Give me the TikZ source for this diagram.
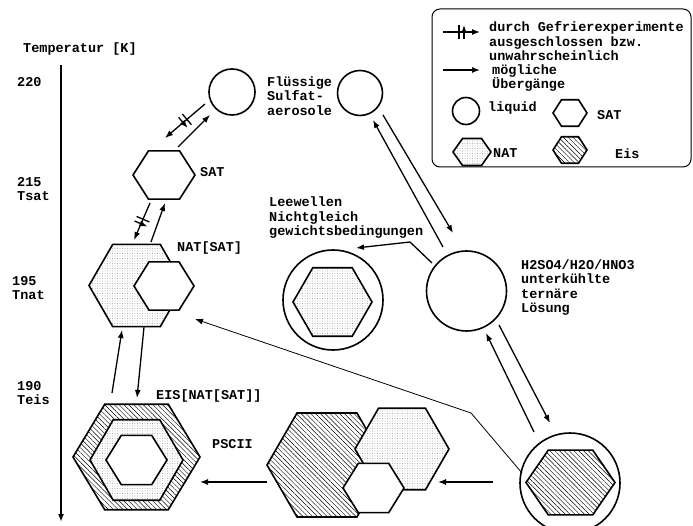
\documentclass[tikz,border=0pt]{standalone}
\usepackage{fontspec}
\setmainfont{Liberation Mono}
\usetikzlibrary{shapes.geometric, arrows.meta, patterns.meta, decorations.markings, positioning}

\tikzset{
  hex/.style={regular polygon, regular polygon sides=6, draw, line width=1.6pt, inner sep=0pt},
  drop/.style={circle, draw, line width=1.6pt, inner sep=0pt},
  natfill/.style={preaction={fill=white}, pattern={Dots[distance=2.5pt, radius=0.35pt]}, pattern color=black!50},
  eisfill/.style={preaction={fill=white}, pattern={Lines[angle=-45, distance=3.4pt, line width=0.45pt]}},
  lbl/.style={inner sep=0pt, anchor=west, align=left},
  arr/.style={-{Latex[length=8pt, width=6pt]}, line width=1.3pt},
  barred/.style={arr, postaction={decorate},
    decoration={markings, mark=at position 0.5 with {
      \draw[line width=1.3pt] (-2.5pt,-7pt) -- (-2.5pt,7pt) (2.5pt,-7pt) -- (2.5pt,7pt);}}}
}

\begin{document}
\begin{tikzpicture}[x=1pt, y=-1pt, font=\fontsize{13.5}{14.5}\selectfont\bfseries]
\useasboundingbox (0,0) rectangle (693,526);

% temperature axis
\node[lbl] (tlabel) at (23,49) {Temperatur [K]};
\coordinate (ttop) at (61,65);
\coordinate (tbot) at (61,522);
\draw[-{Latex[length=8pt, width=6pt]}, line width=1.6pt] (ttop) -- (tbot);
\node[lbl] (t220) at (17,82) {220};
\node[lbl] (t215) at (17,189) {215\\Tsat};
\node[lbl] (t195) at (12,288) {195\\Tnat};
\node[lbl] (t190) at (17,393) {190\\Teis};

% liquid aerosols
\node[drop, minimum size=46] (fl) at (232,92) {};
\node[drop, minimum size=45] (sf) at (360,93) {};
\node[lbl] (fltext) at (267,96) {Flüssige\\Sulfat-\\aerosole};

% SAT and NAT[SAT]
\node[hex, minimum size=62, yscale=0.9] (sat) at (164,175) {};
\node[lbl] (sattext) at (200,172) {SAT};
\node[hex, natfill, minimum size=95] (natbig) at (136.5,285.5) {};
\node[hex, fill=white, minimum size=60, yscale=0.93] (natsat) at (164,286) {};
\node[lbl] (natsattext) at (177,248) {NAT[SAT]};

% PSC II
\node[hex, eisfill, minimum size=127, yscale=0.96] (psc1) at (136.5,457) {};
\node[hex, natfill, minimum size=93] (psc2) at (136.5,460) {};
\node[hex, fill=white, minimum size=61, yscale=0.93] (psc3) at (136.5,460) {};
\node[lbl] (eistext) at (156,396) {EIS[NAT[SAT]]};
\node[lbl] (psctext) at (212,444) {PSCII};

% ice cluster
\node[hex, eisfill, minimum size=120] (cl1) at (327,465) {};
\node[hex, natfill, minimum size=94] (cl2) at (402,449) {};
\node[hex, fill=white, minimum size=61, yscale=0.93] (cl3) at (373.5,488) {};

% ternary solution
\node[drop, minimum size=80] (tern) at (466.5,291) {};
\node[lbl] (terntext) at (521,287.5) {H2SO4/H2O/HNO3\\unterkühlte\\ternäre\\Lösung};

% lee waves
\node[drop, minimum size=100] (lee) at (333,300) {};
\node[hex, natfill, minimum size=79] (leenat) at (332.5,302) {};
\node[lbl] (leetext) at (269,218) {Leewellen\\Nichtgleich\\gewichtsbedingungen};

% ice in droplet
\node[drop, minimum size=100] (eisc) at (570,483) {};
\node[hex, eisfill, minimum size=89, yscale=0.84] (eishex) at (570.5,482.5) {};

% transitions
\draw[barred] ([shift={(-27,12)}]fl.center) -- ([shift={(1,-37)}]sat.center);
\draw[arr] ([shift={(14,-28)}]sat.center) -- ([shift={(-22,23)}]fl.center);
\draw[barred] ([shift={(-14,28)}]sat.center) -- ([shift={(-2.5,-45.5)}]natbig.center);
\draw[arr] ([shift={(14.5,-43.5)}]natbig.center) -- ([shift={(1,28)}]sat.center);
\draw[arr] ([shift={(-24.5,-64)}]psc1.center) -- ([shift={(-14.5,44.5)}]natbig.center);
\draw[arr] ([shift={(7.5,41.5)}]natbig.center) -- ([shift={(0.5,-59)}]psc1.center);
\draw[arr] ([shift={(-60,17)}]cl1.center) -- ([shift={(63.5,25)}]psc1.center);
\draw[arr] ([shift={(-77,-1)}]eisc.center) -- ([shift={(36,33)}]cl2.center);
\draw[arr] ([shift={(32.5,34)}]tern.center) -- ([shift={(-20,-60)}]eisc.center);
\draw[arr] ([shift={(-36,-51)}]eisc.center) -- ([shift={(19.5,42)}]tern.center);
\draw[arr] ([shift={(-23.5,-44)}]tern.center) -- ([shift={(13,27)}]sf.center);
\draw[arr] ([shift={(23,22)}]sf.center) -- ([shift={(-13.5,-58)}]tern.center);
\draw[arr] ([shift={(-34.5,-28)}]tern.center) -- ++(-22,-21) -- ([shift={(23,-52)}]lee.center);
\draw[-{Latex[length=8pt, width=6pt]}, line width=0.8pt] ([shift={(-48,-10)}]eisc.center) -- ++(-51,-60) -- ([shift={(58.5,33.5)}]natbig.center);

% legend
\draw[line width=1pt, rounded corners=8pt] (432,9) rectangle (691,167);
\coordinate (k1a) at (443,32);
\coordinate (k1b) at (480,32);
\coordinate (k2a) at (443,70);
\coordinate (k2b) at (480,70);
\draw[barred] (k1a) -- (k1b);
\draw[arr] (k2a) -- (k2b);
\node[lbl] (k1text) at (489,41.5) {durch Gefrierexperimente\\ausgeschlossen bzw.\\unwahrscheinlich};
\node[lbl] (k2text) at (492,78) {mögliche\\Übergänge};
\node[drop, minimum size=27] (kliq) at (466,111) {};
\node[lbl] (kliqtext) at (488,108) {liquid};
\node[hex, minimum size=34, yscale=0.9] (ksat) at (570,113) {};
\node[lbl] (ksattext) at (597,115) {SAT};
\node[hex, natfill, minimum size=38, yscale=0.82] (knat) at (472,152) {};
\node[lbl] (knattext) at (493,153) {NAT};
\node[hex, eisfill, minimum size=34, yscale=0.9] (keis) at (570,150) {};
\node[lbl] (keistext) at (615,154) {Eis};
\end{tikzpicture}
\end{document}
